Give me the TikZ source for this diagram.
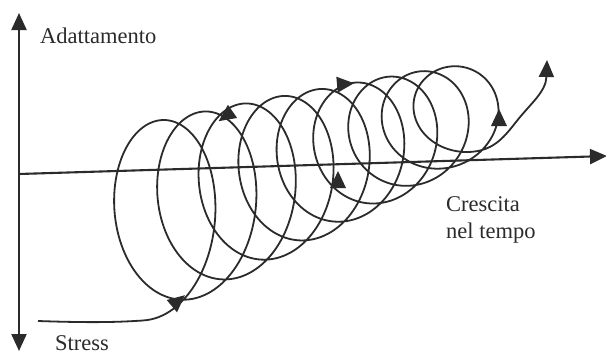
\documentclass[tikz,border=0pt]{standalone}
\usepackage{fontspec}
\setmainfont{Liberation Serif}
\usetikzlibrary{arrows.meta}
\definecolor{ink}{HTML}{2B2B2B}
\newcommand\sphead[3]{\fill[ink,shift={(#1,#2)},rotate=#3] (9,0) -- (-8,8) -- (-8,-8) -- cycle;}
\begin{document}
\begin{tikzpicture}[x=1pt,y=-1pt,
  axis/.style={draw=ink, line width=2.1pt},
  axtip/.style={-{Triangle[length=17pt,width=15pt]}},
  spiral/.style={draw=ink, line width=1.8pt},
  lbl/.style={text=ink, font=\fontsize{22.5}{27}\selectfont, inner sep=0pt, anchor=base west}]
\path[use as bounding box, fill=white] (0,0) rectangle (606,356);
% axes
\coordinate (O) at (19,174);
\coordinate (top) at (19,13);
\coordinate (bot) at (19,351);
\coordinate (right) at (607,156);
\draw[axis, {Triangle[length=17pt,width=15pt]}-{Triangle[length=17pt,width=15pt]}] (bot) -- (top);
\draw[axis, axtip] (O) -- (right);
% spiral
\coordinate (start) at (38,321);
\draw[spiral, -{Triangle[length=17pt,width=15pt]}] (start) .. controls (95,323) and (120,322) .. (142.9,320.5)
  -- plot[domain=0:9, samples=1000] ({164.5+42.8*(\x-0.5)-0.8*(\x-0.5)*(\x-0.5)+(61-1.4*(\x-0.5))*sin(360*\x)}, {215-14.8*(\x-0.5)+0.26*(\x-0.5)*(\x-0.5)+(95-6*(\x-0.5))*cos(360*\x)})
  .. controls (492,151) and (502,140) .. (516,122)
  .. controls (530,104) and (546,92) .. (547,60);
% arrowheads on the spiral
\sphead{178}{301}{40}
\sphead{226}{116}{-145}
\sphead{345}{84}{5}
\sphead{338}{180}{90}
\sphead{499}{118}{90}
% labels
\node[lbl] (adatt) at (40,43) {Adattamento};
\node[lbl] (stress) at (55,350) {Stress};
\node[lbl] (cresc) at (446,211) {Crescita};
\node[lbl] (tempo) at (446,238) {nel tempo};
\end{tikzpicture}
\end{document}
